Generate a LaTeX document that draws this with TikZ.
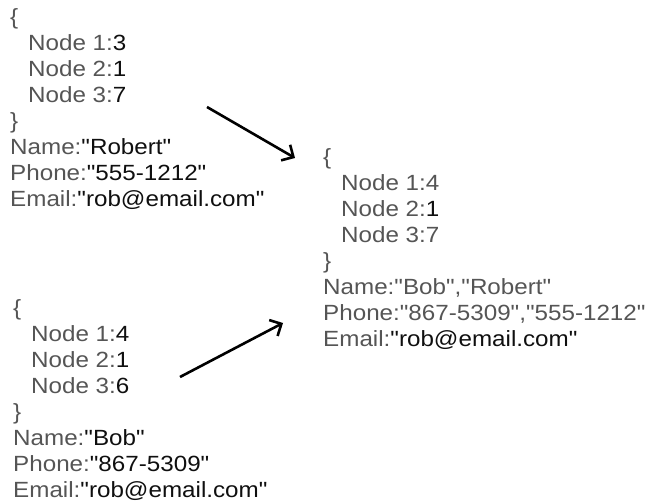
\documentclass[tikz,border=0pt]{standalone}
\usepackage{fontspec}
\setmainfont[FakeStretch=1.1,Ligatures=TeXOff]{Liberation Sans}
\usetikzlibrary{arrows.meta}
\definecolor{keygray}{RGB}{85,85,85}
\definecolor{valblack}{RGB}{15,15,15}
\tikzset{
  record/.style={anchor=base west, align=left, inner sep=0pt, text=keygray,
                 font=\fontsize{22}{26}\selectfont},
  merge/.style={-{Straight Barb[length=9pt,width=18pt]}, line width=2.6pt},
}
\newcommand{\val}[1]{\textcolor{valblack}{#1}}
\newcommand{\ind}{\hspace*{18pt}}

\begin{document}
\begin{tikzpicture}[x=1pt,y=-1pt]
  \useasboundingbox (0,0) rectangle (648,502);
  % the two source records (anchored at the last line)
  \node[record] (robert) at (10,207)
    {\{\\\ind Node 1:\val{3}\\\ind Node 2:\val{1}\\\ind Node 3:\val{7}\\\}\\
     Name:\val{"Robert"}\\Phone:\val{"555-1212"}\\Email:\val{"rob@email.com"}};
  \node[record] (bob) at (13,497)
    {\{\\\ind Node 1:\val{4}\\\ind Node 2:\val{1}\\\ind Node 3:\val{6}\\\}\\
     Name:\val{"Bob"}\\Phone:\val{"867-5309"}\\Email:\val{"rob@email.com"}};
  % the merged record
  \node[record] (merged) at (323,347)
    {\{\\\ind Node 1:4\\\ind Node 2:\val{1}\\\ind Node 3:7\\\}\\
     Name:"Bob","Robert"\\Phone:"867-5309","555-1212"\\Email:\val{"rob@email.com"}};
  % arrows into the merged record
  \coordinate (robout) at (207,107);
  \coordinate (robin) at (295,158);
  \coordinate (bobout) at (180,377);
  \coordinate (bobin) at (283,323);
  \draw[merge] (robout) -- (robin);
  \draw[merge] (bobout) -- (bobin);
\end{tikzpicture}
\end{document}
